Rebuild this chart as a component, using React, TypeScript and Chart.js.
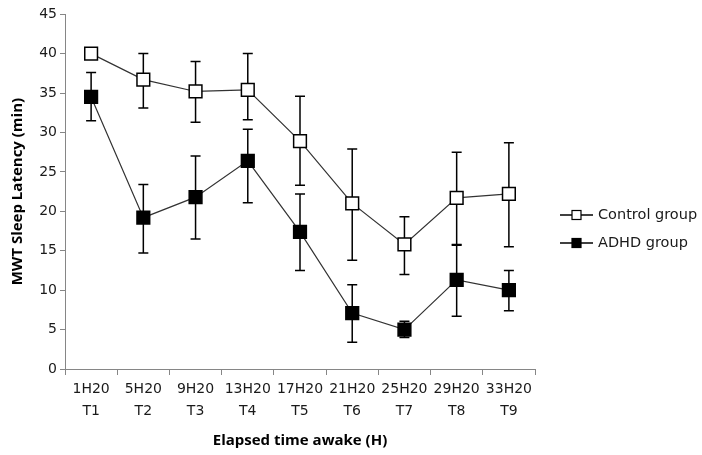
import { useEffect, useRef } from 'react';
import Chart from 'chart.js/auto';

const times = ['1H20', '5H20', '9H20', '13H20', '17H20', '21H20', '25H20', '29H20', '33H20'];
const codes = ['T1', 'T2', 'T3', 'T4', 'T5', 'T6', 'T7', 'T8', 'T9'];

const controlMean = [40.0, 36.7, 35.2, 35.4, 28.9, 21.0, 15.8, 21.7, 22.2];
const controlLow = [40.0, 33.1, 31.3, 31.6, 23.3, 13.8, 12.0, 15.7, 15.5];
const controlHigh = [40.0, 40.0, 39.0, 40.0, 34.6, 27.9, 19.3, 27.5, 28.7];

const adhdMean = [34.5, 19.2, 21.8, 26.4, 17.4, 7.1, 5.0, 11.3, 10.0];
const adhdLow = [31.5, 14.7, 16.5, 21.1, 12.5, 3.4, 4.0, 6.7, 7.4];
const adhdHigh = [37.6, 23.4, 27.0, 30.4, 22.2, 10.7, 6.05, 15.8, 12.5];

const seriesNames = ['Control group', 'ADHD group'];
const seriesFill = ['#ffffff', '#000000'];

const AXIS = '#868686';
const TICK_FONT = { family: 'DejaVu Sans', size: 14, lineHeight: 1.6 };
const TITLE_FONT = { family: 'Open Sans', size: 15, weight: 'bold' as const };

// error bars, drawn under the markers
const errorBars = {
  id: 'errorBars',
  beforeDatasetsDraw(chart: any) {
    const { ctx } = chart;
    const y = chart.scales.y;
    const ranges = [
      [controlLow, controlHigh],
      [adhdLow, adhdHigh],
    ];
    ctx.save();
    ctx.strokeStyle = '#000';
    ctx.lineWidth = 1.5;
    ranges.forEach(([lo, hi], di) => {
      const meta = chart.getDatasetMeta(di);
      meta.data.forEach((pt: any, i: number) => {
        const yl = y.getPixelForValue(lo[i]);
        const yh = y.getPixelForValue(hi[i]);
        if (Math.abs(yl - yh) < 1) return;
        ctx.beginPath();
        ctx.moveTo(pt.x, yl);
        ctx.lineTo(pt.x, yh);
        ctx.moveTo(pt.x - 5, yl);
        ctx.lineTo(pt.x + 5, yl);
        ctx.moveTo(pt.x - 5, yh);
        ctx.lineTo(pt.x + 5, yh);
        ctx.stroke();
      });
    });
    ctx.restore();
  },
};

// legend with line + square like the original
const sideLegend = {
  id: 'sideLegend',
  afterDraw(chart: any) {
    const { ctx, chartArea } = chart;
    const x0 = chartArea.right + 25;
    ctx.save();
    seriesNames.forEach((name, i) => {
      const yy = 215 + i * 28;
      ctx.strokeStyle = '#000';
      ctx.lineWidth = 1.3;
      ctx.beginPath();
      ctx.moveTo(x0, yy);
      ctx.lineTo(x0 + 33, yy);
      ctx.stroke();
      ctx.fillStyle = seriesFill[i];
      ctx.fillRect(x0 + 12, yy - 4.5, 9, 9);
      ctx.lineWidth = 1.2;
      ctx.strokeRect(x0 + 12, yy - 4.5, 9, 9);
      ctx.fillStyle = '#1a1a1a';
      ctx.font = '14.5px "DejaVu Sans"';
      ctx.textBaseline = 'middle';
      ctx.fillText(name, x0 + 38, yy);
    });
    ctx.restore();
  },
};

const App = () => {
  const canvasRef = useRef<HTMLCanvasElement>(null);
  const chartRef = useRef<Chart | null>(null);

  useEffect(() => {
    if (!canvasRef.current) return;
    if (chartRef.current) chartRef.current.destroy();

    const labels = times.map((t, i) => [t, codes[i]]);

    chartRef.current = new Chart(canvasRef.current, {
      type: 'line',
      data: {
        labels,
        datasets: [
          {
            label: seriesNames[0],
            data: controlMean,
            borderColor: '#333',
            borderWidth: 1.2,
            pointStyle: 'rect',
            pointRadius: 9,
            pointBackgroundColor: seriesFill[0],
            pointBorderColor: '#000',
            pointBorderWidth: 1.5,
          },
          {
            label: seriesNames[1],
            data: adhdMean,
            borderColor: '#333',
            borderWidth: 1.2,
            pointStyle: 'rect',
            pointRadius: 9,
            pointBackgroundColor: seriesFill[1],
            pointBorderColor: '#000',
            pointBorderWidth: 1.5,
          },
        ],
      },
      options: {
        animation: false,
        responsive: true,
        maintainAspectRatio: false,
        layout: { padding: { top: 12, right: 167, bottom: 0, left: 0 } },
        plugins: {
          legend: { display: false },
          tooltip: { enabled: false },
        },
        scales: {
          x: {
            offset: true,
            grid: { offset: true, drawOnChartArea: false, tickLength: 6, color: AXIS },
            border: { color: AXIS },
            ticks: { color: '#1a1a1a', font: TICK_FONT, padding: 3, maxRotation: 0, autoSkip: false },
            title: {
              display: true,
              text: 'Elapsed time awake (H)',
              color: '#000',
              font: TITLE_FONT,
              padding: { top: 2, bottom: 5 },
            },
            afterFit: (s: any) => {
              s.height = 86;
            },
          },
          y: {
            min: 0,
            max: 45,
            ticks: { stepSize: 5, color: '#1a1a1a', font: TICK_FONT, padding: 3 },
            grid: { drawOnChartArea: false, tickLength: 5, color: AXIS },
            border: { color: AXIS },
            title: {
              display: true,
              text: 'MWT Sleep Latency (min)',
              color: '#000',
              font: TITLE_FONT,
              padding: { top: 9, bottom: 0 },
            },
            afterFit: (s: any) => {
              s.width = 65;
            },
          },
        },
      },
      plugins: [errorBars, sideLegend],
    });

    return () => {
      if (chartRef.current) {
        chartRef.current.destroy();
        chartRef.current = null;
      }
    };
  }, []);

  return (
    <div style={{ position: 'fixed', left: 0, top: 0, width: 702, height: 455, background: '#fff' }}>
      <canvas ref={canvasRef} />
    </div>
  );
};

export default App;
